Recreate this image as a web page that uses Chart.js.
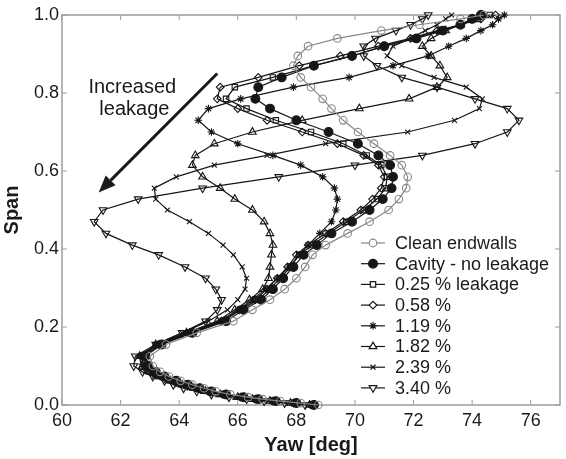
<!DOCTYPE html>
<html lang="en">
<head>
<meta charset="UTF-8">
<title>Yaw vs span</title>
<script src="https://cdn.jsdelivr.net/npm/chart.js"></script>
<style>
  html, body { margin: 0; padding: 0; background: #fff; }
  #wrap { width: 566px; height: 459px; position: relative; }
</style>
</head>
<body>
<div id="wrap"><canvas id="yawChart"></canvas></div>
<script>
// traverse span positions (shared by all cases)
const span = [0, 0.005, 0.01, 0.015, 0.02, 0.027, 0.035, 0.043, 0.052, 0.062,
  0.073, 0.085, 0.1, 0.125, 0.155, 0.185, 0.215, 0.244, 0.27, 0.297,
  0.325, 0.354, 0.385, 0.41, 0.44, 0.47, 0.5, 0.528, 0.556, 0.585,
  0.615, 0.64, 0.67, 0.7, 0.73, 0.76, 0.785, 0.815, 0.84, 0.87,
  0.895, 0.92, 0.94, 0.96, 0.975, 0.99, 1.0];

// yaw angle [deg] for each case
const yawClean = [68.75, 68.15, 67.45, 66.85, 66.35, 65.75, 65.25, 64.85, 64.45, 64.05,
  63.65, 63.35, 63.1, 63.0, 63.55, 64.6, 65.85, 66.5, 67.1, 67.6,
  68.0, 68.3, 68.55, 69.0, 69.75, 70.5, 71.15, 71.5, 71.75, 71.8,
  71.6, 71.2, 70.65, 70.1, 69.6, 69.2, 68.9, 68.5, 68.15, 67.9,
  68.05, 68.4, 69.4, 70.9, 72.2, 73.6, 74.4];
const yawCavity = [68.6, 68.0, 67.3, 66.7, 66.2, 65.6, 65.1, 64.7, 64.3, 63.9,
  63.5, 63.2, 62.95, 62.85, 63.4, 64.45, 65.6, 66.2, 66.8, 67.2,
  67.55, 67.9, 68.25, 68.7, 69.2, 69.9, 70.5, 70.95, 71.25, 71.3,
  71.2, 70.8, 70.1, 69.1, 68.0, 67.1, 66.6, 66.7, 67.5, 68.6,
  69.9, 71.0, 72.1, 73.0, 73.6, 74.0, 74.3];
const yaw025 = [68.55, 67.95, 67.25, 66.65, 66.15, 65.55, 65.05, 64.65, 64.25, 63.85,
  63.45, 63.15, 62.9, 62.8, 63.35, 64.4, 65.5, 66.1, 66.7, 67.1,
  67.45, 67.8, 68.1, 68.55, 69.1, 69.7, 70.3, 70.75, 71.05, 71.1,
  70.9, 70.4, 69.6, 68.5, 67.3, 66.3, 65.6, 65.9, 67.2, 68.6,
  69.9, 71.0, 72.0, 72.9, 73.6, 74.2, 74.6];
const yaw058 = [68.5, 67.9, 67.2, 66.6, 66.1, 65.5, 65.0, 64.6, 64.2, 63.8,
  63.4, 63.1, 62.85, 62.75, 63.3, 64.35, 65.45, 66.05, 66.6, 67.0,
  67.35, 67.7, 68.0, 68.4, 69.0, 69.6, 70.2, 70.6, 70.9, 71.0,
  70.8, 70.3, 69.4, 68.2, 67.0, 66.0, 65.3, 65.4, 66.7, 68.1,
  69.5, 70.8, 71.9, 72.8, 73.6, 74.3, 74.8];
const yaw119 = [68.5, 67.85, 67.15, 66.55, 66.05, 65.45, 64.95, 64.55, 64.15, 63.75,
  63.35, 63.05, 62.8, 62.7, 63.25, 64.3, 65.4, 66.0, 66.5, 66.95,
  67.35, 67.75, 68.1, 68.4, 68.8, 69.2, 69.35, 69.4, 69.3, 68.9,
  68.15, 67.2, 66.0, 65.1, 64.65, 65.0, 66.1, 67.9, 69.8, 71.3,
  72.5, 73.2, 73.8, 74.3, 74.7, 74.9, 75.1];
const yaw182 = [68.45, 67.8, 67.1, 66.5, 66.0, 65.4, 64.9, 64.5, 64.1, 63.7,
  63.3, 63.0, 62.75, 62.65, 63.2, 64.25, 65.3, 65.9, 66.4, 66.85,
  67.05, 67.1, 67.15, 67.2, 67.1, 66.9, 66.5, 65.9, 65.4, 64.8,
  64.45, 64.55, 65.2, 66.5, 68.2, 70.15, 71.85, 72.8, 73.15, 72.9,
  72.6, 72.3, 72.6, 73.1, 73.6, 74.0, 74.3];
const yaw239 = [68.4, 67.75, 67.05, 66.45, 65.9, 65.3, 64.8, 64.35, 63.95, 63.55,
  63.15, 62.85, 62.7, 62.65, 63.2, 64.1, 65.0, 65.65, 66.0, 66.25,
  66.3, 66.15, 65.85, 65.5, 65.0, 64.35, 63.6, 63.2, 63.15, 63.9,
  65.2, 67.0, 69.0, 71.8, 73.4, 74.25, 74.35, 73.8, 72.7, 71.6,
  71.1, 71.3, 71.9, 72.4, 72.8, 73.1, 73.3];
const yaw340 = [68.3, 67.6, 66.9, 66.3, 65.7, 65.1, 64.6, 64.15, 63.8, 63.5,
  63.1, 62.75, 62.45, 62.5, 63.2, 64.1, 64.9, 65.3, 65.45, 65.25,
  64.9, 64.2, 63.3, 62.4, 61.5, 61.1, 61.4, 62.6, 64.8, 67.4,
  70.0, 72.3, 74.1, 75.2, 75.6, 75.2, 74.1, 72.8, 71.6, 70.75,
  70.3, 70.3, 70.7, 71.4, 71.9, 72.3, 72.5];

const seriesNames = ['Clean endwalls', 'Cavity - no leakage', '0.25 % leakage', '0.58 %',
  '1.19 %', '1.82 %', '2.39 %', '3.40 %'];
const seriesYaw = [yawClean, yawCavity, yaw025, yaw058, yaw119, yaw182, yaw239, yaw340];

const xTicks = [60, 62, 64, 66, 68, 70, 72, 74, 76];
const yTicks = [0, 0.2, 0.4, 0.6, 0.8, 1.0];

// marker look for each case
const markers = [
  { color: '#888888', style: 'circle',    r: 3.8, filled: false, rot: 0 },
  { color: '#161616', style: 'circle',    r: 4.4, filled: true,  rot: 0 },
  { color: '#161616', style: 'rect',      r: 3.8, filled: false, rot: 0 },
  { color: '#161616', style: 'rectRot',   r: 3.8, filled: false, rot: 0 },
  { color: '#161616', style: 'star',      r: 3.8, filled: false, rot: 0 },
  { color: '#161616', style: 'triangle',  r: 4.4, filled: false, rot: 0 },
  { color: '#161616', style: 'crossRot',  r: 3.5, filled: false, rot: 0 },
  { color: '#161616', style: 'triangle',  r: 4.4, filled: false, rot: 180 }
];

const FONT = "'Liberation Sans', Arial, Helvetica, sans-serif";

const datasets = seriesYaw.map((yaw, i) => {
  const m = markers[i];
  return {
    label: seriesNames[i],
    data: span.map((s, k) => ({ x: yaw[k], y: s })),
    showLine: true,
    borderColor: m.color,
    borderWidth: 1.2,
    pointStyle: m.style,
    pointRadius: m.r,
    pointRotation: m.rot,
    pointBorderColor: m.color,
    pointBorderWidth: 1.1,
    pointBackgroundColor: m.filled ? m.color : 'rgba(255,255,255,0)',
    clip: false
  };
});

// box around the plot with inward tick marks on all four sides
const frameTicks = {
  id: 'frameTicks',
  beforeDatasetsDraw(chart) {
    const { ctx, chartArea: a, scales: { x, y } } = chart;
    ctx.save();
    ctx.strokeStyle = '#9c9c9c';
    ctx.lineWidth = 1.5;
    ctx.strokeRect(a.left, a.top, a.right - a.left, a.bottom - a.top);
    ctx.lineWidth = 1;
    ctx.beginPath();
    xTicks.forEach(v => {
      const px = x.getPixelForValue(v);
      ctx.moveTo(px, a.bottom); ctx.lineTo(px, a.bottom - 5);
      ctx.moveTo(px, a.top); ctx.lineTo(px, a.top + 5);
    });
    yTicks.forEach(v => {
      const py = y.getPixelForValue(v);
      ctx.moveTo(a.left, py); ctx.lineTo(a.left + 5, py);
      ctx.moveTo(a.right, py); ctx.lineTo(a.right - 5, py);
    });
    ctx.stroke();
    ctx.restore();
  }
};

// "Increased leakage" note with its arrow, placed in data units
const arrowFrom = { x: 65.3, y: 0.85 };
const arrowTo = { x: 61.25, y: 0.545 };
const noteLines = [
  { text: 'Increased', x: 62.4, y: 0.813 },
  { text: 'leakage', x: 62.47, y: 0.757 }
];

const leakageNote = {
  id: 'leakageNote',
  afterDatasetsDraw(chart) {
    const { ctx, scales: { x, y } } = chart;
    const x0 = x.getPixelForValue(arrowFrom.x), y0 = y.getPixelForValue(arrowFrom.y);
    const x1 = x.getPixelForValue(arrowTo.x), y1 = y.getPixelForValue(arrowTo.y);
    const ang = Math.atan2(y1 - y0, x1 - x0);
    const head = 17, half = 7;
    const bx = x1 - head * Math.cos(ang), by = y1 - head * Math.sin(ang);
    ctx.save();
    ctx.strokeStyle = '#1a1a1a';
    ctx.fillStyle = '#1a1a1a';
    ctx.lineWidth = 3;
    ctx.beginPath();
    ctx.moveTo(x0, y0);
    ctx.lineTo(bx, by);
    ctx.stroke();
    ctx.beginPath();
    ctx.moveTo(x1, y1);
    ctx.lineTo(bx + half * Math.sin(ang), by - half * Math.cos(ang));
    ctx.lineTo(bx - half * Math.sin(ang), by + half * Math.cos(ang));
    ctx.closePath();
    ctx.fill();
    ctx.font = '20px ' + FONT;
    ctx.textAlign = 'center';
    ctx.textBaseline = 'middle';
    noteLines.forEach(n => ctx.fillText(n.text, x.getPixelForValue(n.x), y.getPixelForValue(n.y)));
    ctx.restore();
  }
};

// legend inside the lower right of the plot
const insideLegend = {
  id: 'insideLegend',
  afterDatasetsDraw(chart) {
    const { ctx, chartArea: a } = chart;
    const lineX0 = a.left + 299, lineX1 = a.left + 323, textX = a.left + 333;
    const rowY0 = a.top + 228, rowStep = 20.7;
    ctx.save();
    ctx.font = '18px ' + FONT;
    ctx.textAlign = 'left';
    ctx.textBaseline = 'middle';
    chart.data.datasets.forEach((ds, i) => {
      const m = markers[i];
      const yy = rowY0 + i * rowStep;
      ctx.strokeStyle = m.color;
      ctx.lineWidth = 1.2;
      ctx.beginPath();
      ctx.moveTo(lineX0, yy);
      ctx.lineTo(lineX1, yy);
      ctx.stroke();
      ctx.fillStyle = m.filled ? m.color : '#ffffff';
      Chart.helpers.drawPoint(ctx, {
        pointStyle: m.style, radius: m.r, rotation: m.rot, borderWidth: 1.1
      }, (lineX0 + lineX1) / 2, yy);
      ctx.fillStyle = '#1a1a1a';
      ctx.fillText(ds.label, textX, yy + 1);
    });
    ctx.restore();
  }
};

new Chart(document.getElementById('yawChart'), {
  type: 'scatter',
  data: { datasets },
  options: {
    responsive: true,
    maintainAspectRatio: false,
    animation: false,
    layout: { padding: { top: 15, right: 6, left: 0, bottom: 0 } },
    plugins: { legend: { display: false }, tooltip: { enabled: false } },
    scales: {
      x: {
        type: 'linear',
        min: 60,
        max: 77,
        afterBuildTicks: s => { s.ticks = xTicks.map(v => ({ value: v })); },
        afterFit: s => { s.height = 54; },
        grid: { display: false, drawTicks: false },
        border: { display: false },
        ticks: { color: '#1a1a1a', font: { family: FONT, size: 18 }, padding: 5, maxRotation: 0 },
        title: {
          display: true, text: 'Yaw [deg]', color: '#1a1a1a',
          font: { family: FONT, size: 20, weight: 'bold' },
          padding: { top: 0, bottom: 2 }
        }
      },
      y: {
        type: 'linear',
        min: 0,
        max: 1,
        afterBuildTicks: s => { s.ticks = yTicks.map(v => ({ value: v })); },
        afterFit: s => { s.width = 62; },
        grid: { display: false, drawTicks: false },
        border: { display: false },
        ticks: {
          color: '#1a1a1a', font: { family: FONT, size: 18 }, padding: 3,
          callback: v => v.toFixed(1)
        },
        title: {
          display: true, text: 'Span', color: '#1a1a1a',
          font: { family: FONT, size: 20, weight: 'bold' },
          padding: { top: 0, bottom: 0 }
        }
      }
    }
  },
  plugins: [frameTicks, leakageNote, insideLegend]
});
</script>
</body>
</html>
